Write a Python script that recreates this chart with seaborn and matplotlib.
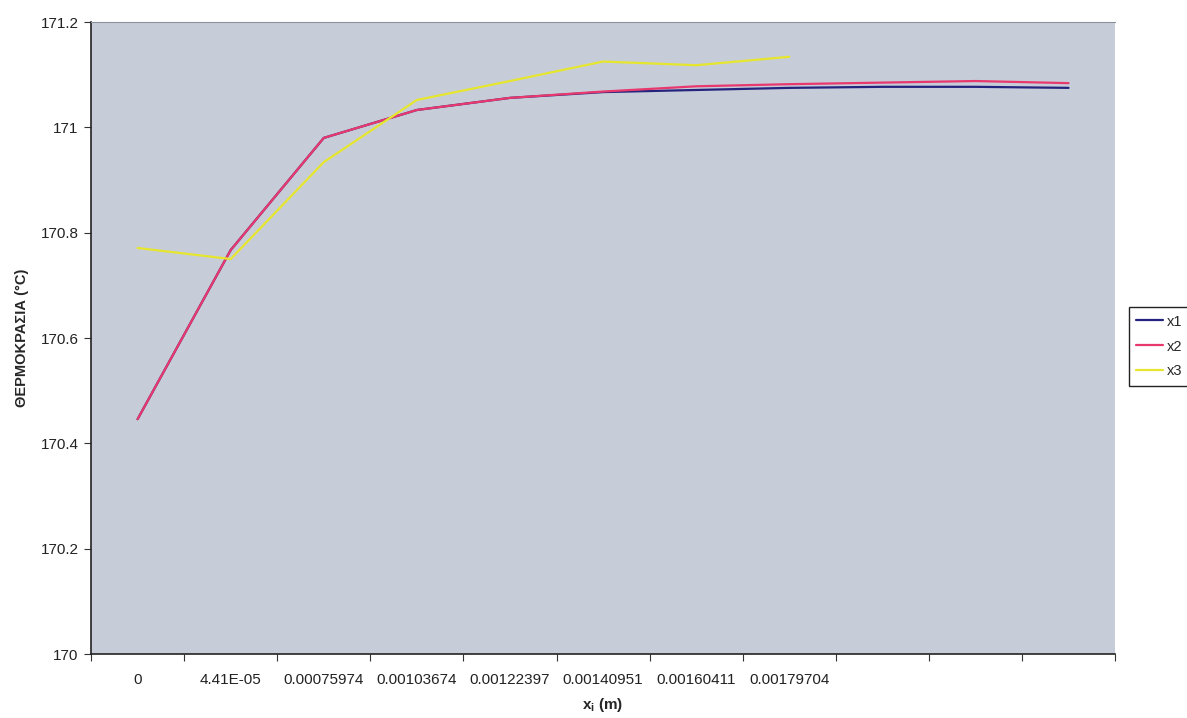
import pandas as pd
import matplotlib
matplotlib.use("Agg")
import matplotlib.pyplot as plt
import seaborn as sns

# category labels on the x axis (last three categories have no label)
x_labels = ['0', '4.41E-05', '0.00075974', '0.00103674', '0.00122397',
            '0.00140951', '0.00160411', '0.00179704', '', '', '']

# temperatures
x1 = [170.446, 170.767, 170.980, 171.033, 171.056, 171.067,
      171.071, 171.075, 171.077, 171.077, 171.075]
x2 = [170.446, 170.767, 170.980, 171.033, 171.056, 171.068,
      171.078, 171.082, 171.085, 171.088, 171.084]
x3 = [170.771, 170.750, 170.934, 171.052, 171.088, 171.125,
      171.118, 171.134]

y_ticks = [170, 170.2, 170.4, 170.6, 170.8, 171, 171.2]
y_tick_labels = ['170', '170.2', '170.4', '170.6', '170.8', '171', '171.2']


def plot_temperatures():
    rows = []
    for name, vals in [('x1', x1), ('x2', x2), ('x3', x3)]:
        for i, v in enumerate(vals):
            rows.append({'pos': i, 'temp': v, 'series': name})
    df = pd.DataFrame(rows)

    sns.set_style('white')
    plt.rcParams['font.family'] = ['Liberation Sans', 'DejaVu Sans']
    plt.rcParams['mathtext.fontset'] = 'custom'
    plt.rcParams['mathtext.rm'] = 'Liberation Sans'
    plt.rcParams['mathtext.bf'] = 'Liberation Sans:bold'

    fig = plt.figure(figsize=(11.87, 7.18), dpi=100)
    ax = fig.add_axes([0.0767, 0.0891, 0.8627, 0.8802])
    ax.set_facecolor('#c6ccd8')

    palette = {'x1': '#24247e', 'x2': '#e8386e', 'x3': '#e6e62e'}
    sns.lineplot(data=df, x='pos', y='temp', hue='series', palette=palette,
                 linewidth=1.6, ax=ax, legend=True)

    ax.set_xlim(-0.5, len(x_labels) - 0.5)
    ax.set_ylim(170, 171.2)

    # ticks at category boundaries, labels at category centres
    ax.set_xticks([i - 0.5 for i in range(len(x_labels) + 1)])
    ax.set_xticklabels([])
    ax.set_xticks(range(len(x_labels)), minor=True)
    ax.set_xticklabels(x_labels, minor=True)
    ax.tick_params(axis='x', which='major', direction='out', length=5,
                   width=0.8, color='#333333', bottom=True)
    ax.tick_params(axis='x', which='minor', length=0, pad=14,
                   labelsize=11, labelcolor='#222222')

    ax.set_yticks(y_ticks)
    ax.set_yticklabels(y_tick_labels)
    ax.tick_params(axis='y', direction='out', length=5, width=0.8,
                   color='#333333', pad=4, labelsize=11,
                   labelcolor='#222222', left=True)

    for side in ['left', 'bottom']:
        ax.spines[side].set_color('#222222')
        ax.spines[side].set_linewidth(1.2)
    ax.spines['top'].set_color('#8c919b')
    ax.spines['top'].set_linewidth(0.8)
    ax.spines['right'].set_visible(False)

    ax.set_xlabel(r'x$_\mathregular{i}$ (m)', fontsize=11, fontweight='bold',
                  labelpad=6)
    ax.set_ylabel('ΘΕΡΜΟΚΡΑΣΙΑ (°C)', fontsize=10.5, fontweight='bold',
                  labelpad=8)

    handles, labels = ax.get_legend_handles_labels()
    ax.get_legend().remove()
    leg = fig.legend(handles, labels, loc='upper left',
                     bbox_to_anchor=(0.945, 0.5822), frameon=True,
                     fancybox=False, framealpha=1, edgecolor='#222222',
                     fontsize=10.5, handlelength=1.8, handletextpad=0.3,
                     labelspacing=0.75, borderpad=0.5)
    leg.get_frame().set_linewidth(1.0)

    fig.savefig('out.png', dpi=100)


if __name__ == "__main__":
    plot_temperatures()
